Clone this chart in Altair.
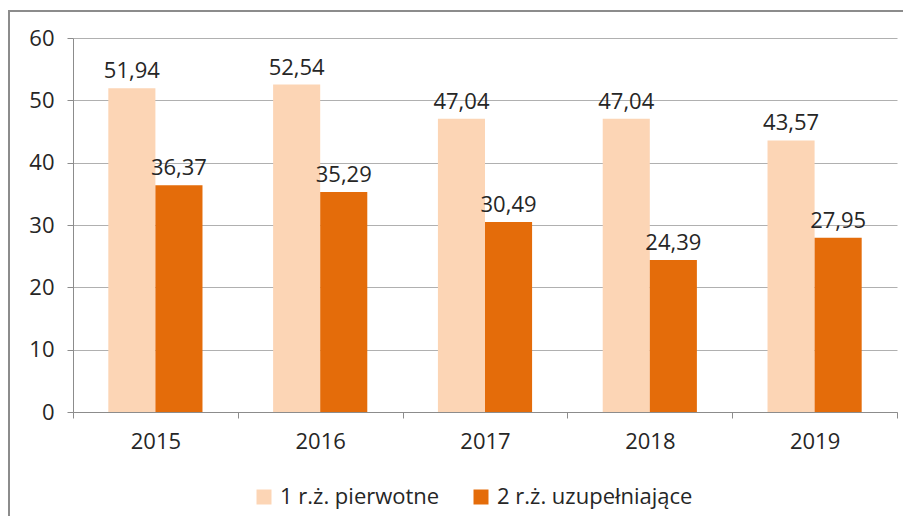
import altair as alt
import pandas as pd

years = ["2015", "2016", "2017", "2018", "2019"]
series = ["1 r.ż. pierwotne", "2 r.ż. uzupełniające"]
pierwotne = [51.94, 52.54, 47.04, 47.04, 43.57]
uzupelniajace = [36.37, 35.29, 30.49, 24.39, 27.95]
colors = ["#FCD5B5", "#E46C0A"]

rows = []
for i, y in enumerate(years):
    for s, vals in zip(series, [pierwotne, uzupelniajace]):
        v = vals[i]
        rows.append({"rok": y, "seria": s, "wartosc": v,
                     "etykieta": f"{v:.2f}".replace(".", ",")})
df = pd.DataFrame(rows)

FONT = "Open Sans"
FS = 22
TXT = "#262626"

base = alt.Chart(df).encode(
    x=alt.X("rok:N", sort=years, title=None,
            scale=alt.Scale(paddingInner=0, paddingOuter=0),
            axis=alt.Axis(labelAngle=0, tickBand="extent", domainColor="#8c8c8c",
                          tickColor="#8c8c8c", tickSize=6, labelPadding=13,
                          labelFont=FONT, labelFontSize=FS, labelColor=TXT, grid=False)),
    xOffset=alt.XOffset("seria:N", sort=series,
                        scale=alt.Scale(paddingInner=0, paddingOuter=0.75)),
)

bars = base.mark_bar().encode(
    y=alt.Y("wartosc:Q", title=None,
            scale=alt.Scale(domain=[0, 60], nice=False),
            axis=alt.Axis(values=[0, 10, 20, 30, 40, 50, 60], tickSize=6,
                          domainColor="#8c8c8c", tickColor="#8c8c8c",
                          gridColor="#b0b0b0", grid=True, labelPadding=13,
                          labelFont=FONT, labelFontSize=FS, labelColor=TXT)),
    color=alt.Color("seria:N", sort=series,
                    scale=alt.Scale(domain=series, range=colors),
                    legend=alt.Legend(title=None, orient="none", direction="horizontal",
                                      legendX=180, legendY=448,
                                      symbolType="square", symbolSize=225,
                                      symbolStrokeWidth=0, symbolOpacity=1,
                                      labelFont=FONT, labelFontSize=FS, labelColor=TXT,
                                      labelLimit=0, columnPadding=30, labelOffset=5)),
)

labels = base.mark_text(baseline="bottom", dy=-5, font=FONT, fontSize=FS, color=TXT).encode(
    y=alt.Y("wartosc:Q"),
    text="etykieta:N",
)

frame = alt.Chart(alt.Data(values=[{}])).mark_rect(
    fill=None, stroke="#8c8c8c", strokeWidth=2
).encode(
    x=alt.value(-64), y=alt.value(-27), x2=alt.value(1000), y2=alt.value(700)
)

chart = alt.layer(frame, bars, labels).properties(
    width=824, height=374,
    autosize=alt.AutoSizeParams(type="none"),
    padding={"left": 65, "top": 30, "right": 6, "bottom": 104},
).configure_view(stroke=None).configure_axis(gridWidth=1)

chart.save("out.html", embed_options={"renderer": "svg", "actions": False})
